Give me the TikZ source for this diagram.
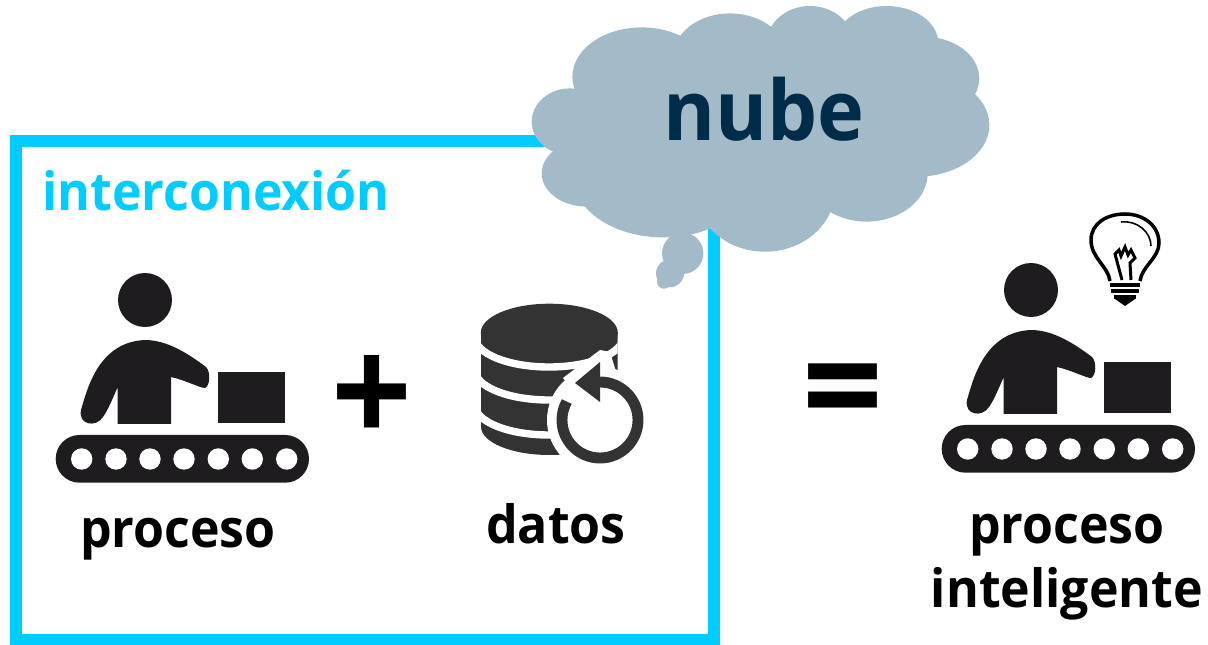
\documentclass[tikz,border=0pt]{standalone}
\usepackage{fontspec}
\setmainfont[FakeStretch=.95]{Open Sans}
\definecolor{frameblue}{RGB}{0,204,255}
\definecolor{cloudgrey}{RGB}{163,186,201}
\definecolor{nubeblue}{RGB}{0,43,73}
\definecolor{workerblack}{RGB}{30,28,30}
\definecolor{dbgrey}{RGB}{51,51,51}
\tikzset{
  label/.style={font=\bfseries\fontsize{30pt}{30pt}\selectfont,anchor=base,inner sep=0pt},
  worker/.pic={
    \fill [workerblack] (105,40) circle (27);
    \fill [workerblack] (77.7,164) -- (77.7,127) .. controls (72,140) and (68,150) .. (63,157)
      .. controls (56,168) and (38,165) .. (41,150) .. controls (47,130) and (58,82) .. (105,80)
      .. controls (128,80) and (150,95) .. (166,107) .. controls (171,112) and (170,126) .. (165,128)
      .. controls (160,128) and (145,120) .. (131,117) -- (131,164) -- cycle;
    \fill [workerblack] (178.3,111.7) rectangle (245,163.3);
    \fill [workerblack,rounded corners=.476cm] (15.7,175) rectangle (269,222.7);
    \foreach \holex in {41.7,76,110,144,178.3,212.3,246.7}
      \fill [white] (\holex,199) circle (10.7);
  }
}
\begin{document}
\begin{tikzpicture}[x=0.02cm,y=-0.02cm]
  \useasboundingbox (0,0) rectangle (1208,645);
  % frame
  \draw [frameblue,line width=6.8pt] (16,141) rectangle (714,639.5);
  % cloud
  \foreach \cx/\cy/\rx/\ry in {570/121.7/38.3/33.3,586.7/173.3/45/33.3,641.7/76.7/69.3/49.3,
    730/56.7/56.7/43.3,810/43.3/43.3/37.3,886.7/43.3/51.7/37.3,923.3/78.3/56/41.7,
    916.7/125/72.7/51.7,866.7/173.3/61/48.3,765/190/70/61.7,663.3/176.7/90/60.7,
    750/120/170/70,682.7/253.3/20.7/20.7,670/273.3/14/14,664/281.7/7/7}
    \fill [cloudgrey] (\cx,\cy) ellipse [x radius=\rx,y radius=\ry];
  \node [label,text=nubeblue,font=\bfseries\fontsize{47.5pt}{48pt}\selectfont] (nube) at (764,141) {nube};
  \node [label,text=frameblue] (inter) at (216,211) {interconexión};
  % workers
  \pic at (40,260) {worker};
  \pic at (926,250) {worker};
  \node [label] (proc) at (178,547) {proceso};
  \node [label] (proc2) at (1067,543) {proceso};
  \node [label] (intel) at (1067,607) {inteligente};
  \node [label] (datos) at (556,543) {datos};
  \node [label,font=\bfseries\fontsize{85pt}{85pt}\selectfont] (plus) at (372,444.5) {+};
  \node [label,font=\bfseries\fontsize{85pt}{85pt}\selectfont] (equal) at (843,438.5) {=};
  % database
  \begin{scope}
    \clip (481,332.7) -- (481,426.7) arc [start angle=180,end angle=0,x radius=68.3,y radius=28.3] -- (617.7,332.7) -- cycle;
    \fill [dbgrey] (481,300) rectangle (618,480);
    \foreach \gapy in {337,370,405}
      \draw [white,line width=4.2pt] (475,\gapy) arc [start angle=180,end angle=0,x radius=74,y radius=30];
  \end{scope}
  \fill [dbgrey] (549.3,332.7) ellipse [x radius=68.5,y radius=29];
  \fill [white] (600,420) circle (53);
  \fill [white] (563,378) -- (600,350) -- (610,352) -- (618,378) -- (610,410) -- (580,400) -- cycle;
  \draw [dbgrey,line width=6.2pt] (600,382) arc [start angle=-90,end angle=209,radius=38];
  \fill [dbgrey] (575,383) -- (600,362) -- (600,402) -- cycle;
  % bulb
  \draw [black,line width=2pt,line join=round] (1110,281) .. controls (1108,266) and (1091,258) .. (1091,240)
    .. controls (1091,224) and (1106,214) .. (1125,214) .. controls (1144,214) and (1159,226) .. (1159,243)
    .. controls (1159,258) and (1142,266) .. (1140,281);
  \draw [black,line width=1.7pt] (1122,280) -- (1115,254) -- (1119,250) -- (1121,256) -- (1125,247) -- (1128,255) -- (1131,250) -- (1135,258) -- (1130,263) -- (1131,280);
  \draw [black,line width=.9pt] (1121,222) .. controls (1137,220) and (1151,232) .. (1151,246);
  \foreach \ringy/\ringl/\ringr in {285/1110/1140,291/1111/1139,297/1114/1136}
    \draw [black,line width=1.9pt] (\ringl,\ringy) -- (\ringr,\ringy);
  \fill [black] (1115,299) -- (1135,299) -- (1125,306) -- cycle;
\end{tikzpicture}
\end{document}
